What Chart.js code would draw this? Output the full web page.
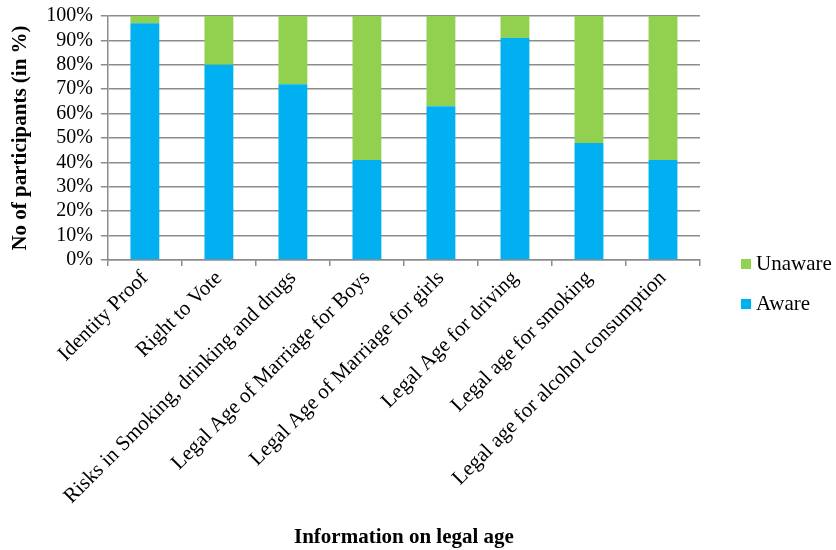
<!DOCTYPE html>
<html>
<head>
<meta charset="utf-8">
<script src="https://cdn.jsdelivr.net/npm/chart.js@4.4.1/dist/chart.umd.min.js"></script>
<style>
  html, body { margin: 0; padding: 0; background: #fff; overflow: hidden; }
  #wrap { position: relative; width: 836px; height: 550px; overflow: hidden; }
  #chart { position: absolute; left: 0; top: -4px; }
  #legend { position: absolute; left: 741px; top: 253px; font-family: "Liberation Serif", serif; font-size: 21px; color: #000; }
  #legend div { height: 40px; line-height: 21px; white-space: nowrap; }
  #legend span.box { display: inline-block; width: 10px; height: 10px; margin-right: 5px; vertical-align: 1px; }
</style>
</head>
<body>
<div id="wrap">
  <canvas id="chart" width="836" height="554"></canvas>
  <div id="legend"></div>
</div>
<script>
const categories = [
  'Identity Proof',
  'Right to Vote',
  'Risks in Smoking, drinking and drugs',
  'Legal Age of Marriage for Boys',
  'Legal Age of Marriage for girls',
  'Legal Age for driving',
  'Legal age for smoking',
  'Legal age for alcohol consumption'
];
const aware = [97, 80, 72, 41, 63, 91, 48, 41];
const unaware = [3, 20, 28, 59, 37, 9, 52, 59];
const yTicks = [0, 10, 20, 30, 40, 50, 60, 70, 80, 90, 100];

const BLUE = '#00b0f0';
const GREEN = '#92d050';
const GRID = '#8c8c8c';
const FONT = '"Liberation Serif", "Times New Roman", serif';

const ctx = document.getElementById('chart').getContext('2d');
const chart = new Chart(ctx, {
  type: 'bar',
  data: {
    labels: categories,
    datasets: [
      { label: 'Aware', data: aware, backgroundColor: BLUE, borderWidth: 0, categoryPercentage: 1, barPercentage: 0.39 },
      { label: 'Unaware', data: unaware, backgroundColor: GREEN, borderWidth: 0, categoryPercentage: 1, barPercentage: 0.39 }
    ]
  },
  options: {
    responsive: false,
    animation: false,
    layout: { padding: { top: 1, right: 136, left: 8, bottom: 0 } },
    plugins: {
      legend: { display: false },
      tooltip: { enabled: false }
    },
    scales: {
      x: {
        stacked: true,
        // the axis needs more room than the default half-height cap allows
        afterFit: scale => { scale.height = 290; },
        grid: { display: true, drawOnChartArea: false, drawTicks: true, tickLength: 6, color: GRID, lineWidth: 1.5 },
        border: { color: GRID, width: 1.5 },
        ticks: {
          color: '#000',
          font: { family: FONT, size: 21 },
          minRotation: 45, maxRotation: 45,
          autoSkip: false, padding: 0
        },
        title: {
          display: true, text: 'Information on legal age',
          color: '#000', font: { family: FONT, size: 21, weight: 'bold' },
          padding: { top: 10, bottom: 0 }
        }
      },
      y: {
        stacked: true,
        min: 0, max: 100,
        afterBuildTicks: axis => { axis.ticks = yTicks.map(v => ({ value: v })); },
        grid: { color: GRID, lineWidth: 1.5, tickLength: 7 },
        border: { color: GRID, width: 1.5 },
        ticks: {
          color: '#000',
          font: { family: FONT, size: 20 },
          padding: 8,
          autoSkip: false,
          callback: v => v + '%'
        },
        title: {
          display: true, text: 'No of participants (in %)',
          color: '#000', font: { family: FONT, size: 21, weight: 'bold' },
          padding: { top: 0, bottom: 5 }
        }
      }
    }
  }
});

// legend, Unaware listed first as in the original
const legend = document.getElementById('legend');
[...chart.data.datasets].reverse().forEach(ds => {
  const row = document.createElement('div');
  row.innerHTML = '<span class="box" style="background:' + ds.backgroundColor + '"></span>' + ds.label;
  legend.appendChild(row);
});
</script>
</body>
</html>
